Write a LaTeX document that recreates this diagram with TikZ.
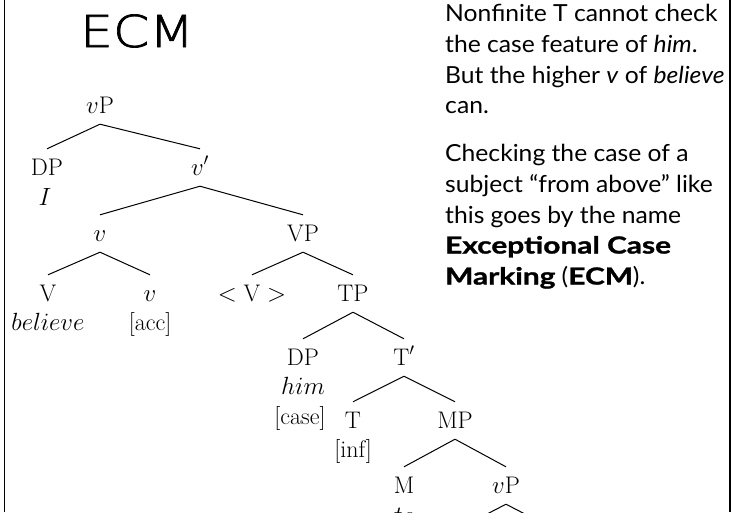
\documentclass[tikz,border=0pt]{standalone}
\usepackage{fontspec}
\newfontfamily\notefont{Lato}[FakeStretch=1.05,
  BoldFeatures={FakeStretch=1.27, FakeBold=1.2}]
\newfontfamily\titlefont{DejaVuSans-ExtraLight.ttf}[FakeStretch=1.18, FakeBold=1.6]
\begin{document}
\begin{tikzpicture}[x=1pt,y=-1pt,
  cat/.style={inner sep=0pt, anchor=base, text height=26pt, text depth=11pt,
    font=\fontsize{24}{28}\selectfont},
  lex/.style={inner sep=0pt, anchor=base, font=\fontsize{24}{28}\selectfont},
  branch/.style={line width=1pt},
  note/.style={inner sep=0pt, anchor=base west, font=\notefont\fontsize{23.5}{28}\selectfont},
  notebold/.style={note, font=\notefont\bfseries\fontsize{23.5}{28}\selectfont},
  frameline/.style={line width=1.6pt}]
\useasboundingbox (0,0) rectangle (738,512);
\clip (0,0) rectangle (738,512);

% side rules
\draw[frameline] (4.3,0) -- (4.3,512);
\draw[frameline] (730,0) -- (730,512);

% title
\node[inner sep=0pt, anchor=base west, font=\titlefont\fontsize{44}{50}\selectfont]
  (title) at (80,47) {ECM};

% tree
\node[cat] (vP) at (100,113) {$v$P};
\node[cat] (DP1) at (47,175) {DP};
\node[lex] (I) at (45,205) {$I$};
\node[cat] (vbar) at (200,175) {$v'$};
\node[cat] (v1) at (100,241) {$v$};
\node[cat] (VP) at (303,241) {VP};
\node[cat] (V) at (48,301) {V};
\node[lex] (believe) at (48,330) {$believe$};
\node[cat] (v2) at (150,301) {$v$};
\node[lex] (acc) at (150,330) {[acc]};
\node[cat] (Vtr) at (252,301) {$<\mathrm{V}>$};
\node[cat] (TP) at (353,301) {TP};
\node[cat] (DP2) at (303,365) {DP};
\node[lex] (him) at (303,394) {$him$};
\node[lex] (case) at (300,424) {[case]};
\node[cat] (Tbar) at (404,365) {T$'$};
\node[cat] (T) at (353,428) {T};
\node[lex] (inf) at (353,457) {[inf]};
\node[cat] (MP) at (455,428) {MP};
\node[cat] (M) at (404,493) {M};
\node[lex] (to) at (404,523) {$to$};
\node[cat] (vP2) at (506,493) {$v$P};
\coordinate (vPl) at (456,530);
\coordinate (vPr) at (556,530);

\draw[branch] (vP.south) -- (DP1.north);
\draw[branch] (vP.south) -- (vbar.north);
\draw[branch] (vbar.south) -- (v1.north);
\draw[branch] (vbar.south) -- (VP.north);
\draw[branch] (v1.south) -- (V.north);
\draw[branch] (v1.south) -- (v2.north);
\draw[branch] (VP.south) -- (Vtr.north);
\draw[branch] (VP.south) -- (TP.north);
\draw[branch] (TP.south) -- (DP2.north);
\draw[branch] (TP.south) -- (Tbar.north);
\draw[branch] (Tbar.south) -- (T.north);
\draw[branch] (Tbar.south) -- (MP.north);
\draw[branch] (MP.south) -- (M.north);
\draw[branch] (MP.south) -- (vP2.north);
\draw[branch] (vP2.south) -- (vPl);
\draw[branch] (vP2.south) -- (vPr);

% explanatory text
\node[note] (n1) at (445,21.7) {Nonfinite T cannot check};
\node[note] (n2) at (445,52) {the case feature of \textit{him}.};
\node[note] (n3) at (445,83) {But the higher \textit{v} of \textit{believe}};
\node[note] (n4) at (445,113) {can.};
\node[note] (n5) at (445,161.7) {Checking the case of a};
\node[note] (n6) at (445,192.5) {subject “from above” like};
\node[note] (n7) at (445,223) {this goes by the name};
\node[notebold] (n8) at (445,253.5) {Exceptional Case};
\node[note] (n9) at (445,284.5) {\textbf{Marking} (\textbf{ECM}).};
\end{tikzpicture}
\end{document}
